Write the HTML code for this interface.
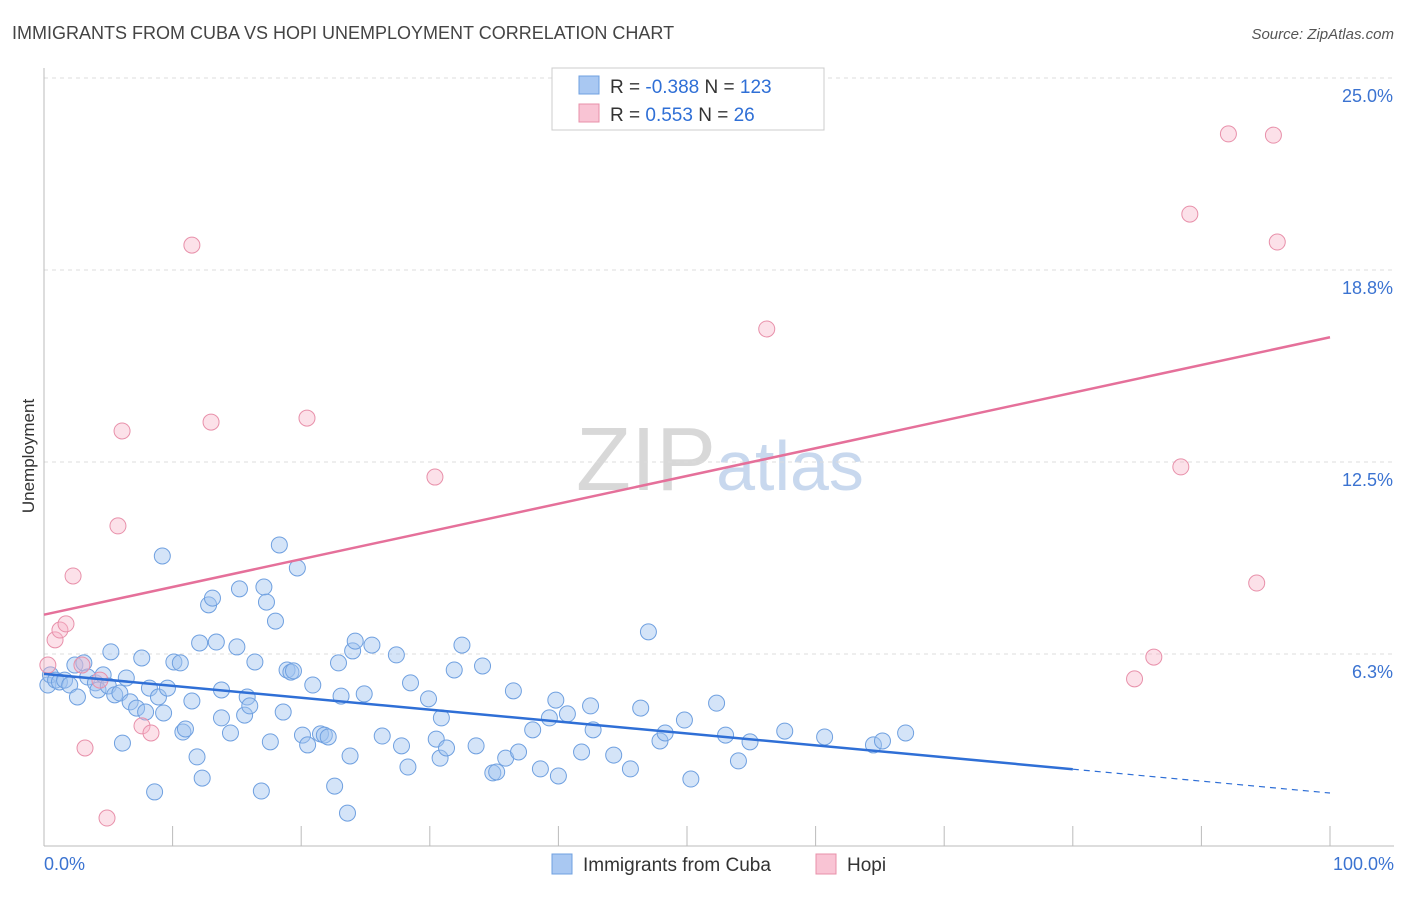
<!DOCTYPE html>
<html><head><meta charset="utf-8"><style>
body{margin:0;background:#fff;font-family:"Liberation Sans",sans-serif}
svg text{font-family:"Liberation Sans",sans-serif}
</style></head><body>
<svg id="chart" width="1406" height="892" xmlns="http://www.w3.org/2000/svg">
<text x="12" y="39" font-size="18" fill="#444">IMMIGRANTS FROM CUBA VS HOPI UNEMPLOYMENT CORRELATION CHART</text>
<text x="1394" y="39" font-size="15" fill="#555" font-style="italic" text-anchor="end">Source: ZipAtlas.com</text>
<text x="720" y="490" font-size="90" text-anchor="middle" fill="#ddd" font-family="Liberation Serif"><tspan fill="#d8d8d8">ZIP</tspan><tspan fill="#c8d8ee" font-family="Liberation Sans" font-size="70">atlas</tspan></text>
<g id="grid"></g><g id="axes"></g><g id="marks"></g>
<text transform="translate(34,456) rotate(-90)" font-size="17" fill="#333" text-anchor="middle">Unemployment</text>
<g>
<rect x="552" y="68" width="272" height="62" fill="#fff" stroke="#ccc"/>
<rect x="579" y="76" width="20" height="18" fill="#a9c8f2" stroke="#6fa0e0"/>
<rect x="579" y="104" width="20" height="18" fill="#f9c4d4" stroke="#e890aa"/>
<text x="610" y="93" font-size="19" fill="#333">R = <tspan fill="#2f6fd6">-0.388</tspan>    N = <tspan fill="#2f6fd6">123</tspan></text>
<text x="610" y="121" font-size="19" fill="#333">R =   <tspan fill="#2f6fd6">0.553</tspan>    N =   <tspan fill="#2f6fd6">26</tspan></text>
</g>
<g>
<rect x="552" y="854" width="20" height="20" fill="#a9c8f2" stroke="#6fa0e0"/>
<text x="583" y="871" font-size="19" fill="#333">Immigrants from Cuba</text>
<rect x="816" y="854" width="20" height="20" fill="#f9c4d4" stroke="#e890aa"/>
<text x="847" y="871" font-size="19" fill="#333">Hopi</text>
</g>
</svg>
<script>
const yTicks=[6.25,12.5,18.75,25];
const yTickLabels=["6.3%","12.5%","18.8%","25.0%"];
const xTickLabels=["0.0%","100.0%"];
const cubaX=[0.3,0.5,0.9,1.2,1.6,2.0,2.4,2.6,3.1,3.4,4.0,4.2,4.6,5.0,5.2,5.5,5.9,6.1,6.4,6.7,7.2,7.6,7.9,8.2,8.6,8.9,9.2,9.3,9.6,10.1,10.6,10.8,11.0,11.5,11.9,12.1,12.3,12.8,13.1,13.4,13.8,13.8,14.5,15.0,15.2,15.6,15.8,16.0,16.4,16.9,17.1,17.3,17.6,18.0,18.3,18.6,18.9,19.2,19.4,19.7,20.1,20.5,20.9,21.5,21.8,22.1,22.6,22.9,23.1,23.6,23.8,24.0,24.2,24.9,25.5,26.3,27.4,27.8,28.3,28.5,29.9,30.5,30.8,30.9,31.3,31.9,32.5,33.6,34.1,34.9,35.2,35.9,36.5,36.9,38.0,38.6,39.3,39.8,40.0,40.7,41.8,42.5,42.7,44.3,45.6,46.4,47.0,47.9,48.3,49.8,50.3,52.3,53.0,54.0,54.9,57.6,60.7,64.5,65.2,67.0];
const cubaY=[5.24,5.57,5.40,5.34,5.40,5.24,5.89,4.85,5.96,5.50,5.31,5.08,5.57,5.21,6.32,4.92,4.98,3.35,5.47,4.69,4.49,6.12,4.36,5.14,1.76,4.85,9.44,4.33,5.14,5.99,5.96,3.71,3.81,4.72,2.90,6.61,2.21,7.85,8.07,6.64,5.08,4.17,3.68,6.48,8.37,4.26,4.85,4.56,5.99,1.79,8.43,7.94,3.39,7.32,9.80,4.36,5.73,5.66,5.70,9.05,3.61,3.29,5.24,3.65,3.61,3.55,1.95,5.96,4.88,1.07,2.93,6.35,6.67,4.95,6.54,3.58,6.22,3.26,2.57,5.31,4.79,3.48,2.86,4.17,3.19,5.73,6.54,3.26,5.86,2.38,2.41,2.86,5.05,3.06,3.78,2.51,4.17,4.75,2.28,4.30,3.06,4.56,3.78,2.96,2.51,4.49,6.97,3.42,3.68,4.10,2.18,4.65,3.61,2.77,3.39,3.74,3.55,3.29,3.42,3.68];
const hopiX=[0.3,0.86,1.24,1.71,2.26,3.19,2.95,4.35,4.9,5.75,6.07,7.62,8.32,11.5,12.99,20.45,30.4,56.2,84.8,86.3,88.4,89.1,92.1,94.3,95.6,95.9];
const hopiY=[5.89,6.71,7.03,7.23,8.79,3.19,5.89,5.40,0.91,10.42,13.51,3.91,3.68,19.56,13.80,13.93,12.01,16.83,5.44,6.15,12.34,20.57,23.18,8.56,23.14,19.66];
const X0=44,X1=1330,Y0=846,Y1=78,YMAX=25;
const sx=v=>X0+(X1-X0)*v/100, sy=v=>Y0-(Y0-Y1)*v/YMAX;
const NS="http://www.w3.org/2000/svg";
function mk(tag,attrs,parent){const e=document.createElementNS(NS,tag);for(const k in attrs)e.setAttribute(k,attrs[k]);document.getElementById(parent).appendChild(e);return e;}
mk('line',{x1:X0,y1:Y1,x2:1394,y2:Y1,stroke:'#ddd','stroke-dasharray':'4,4'},'grid');
yTicks.forEach((t,i)=>{
 const g=mk('line',{x1:X0,y1:sy(t),x2:1394,y2:sy(t),stroke:'#ddd','stroke-dasharray':'4,4'},'grid');
 
 
 const l=mk('text',{x:1393,y:sy(t)+24,'font-size':18,fill:'#3b73d1','text-anchor':'end'},'axes');
 
 
 l.textContent=yTickLabels[i];
});
const ax=mk('line',{x1:X0,y1:68,x2:X0,y2:Y0,stroke:'#bbb'},'axes');


const bx=mk('line',{x1:X0,y1:Y0,x2:1394,y2:Y0,stroke:'#bbb'},'axes');


for(let i=0;i<=10;i++){const t=mk('line',{x1:sx(i*10),y1:826,x2:sx(i*10),y2:Y0,stroke:'#bbb'},'axes');
 
 }
[[0,'start',X0],[1,'end',1394]].forEach(([i,a,x])=>{const l=mk('text',{x:x,y:870,'font-size':18,fill:'#3b73d1','text-anchor':a},'axes');
 
 
 l.textContent=xTickLabels[i];});
function fit(xs,ys){const n=xs.length;let mx=0,my=0;for(let i=0;i<n;i++){mx+=xs[i];my+=ys[i];}mx/=n;my/=n;let a=0,b=0;for(let i=0;i<n;i++){a+=(xs[i]-mx)*(ys[i]-my);b+=(xs[i]-mx)**2;}const s=a/b;return x=>my+s*(x-mx);}
cubaX.forEach((x,i)=>{const c=mk('circle',{cx:sx(x),cy:sy(cubaY[i]),r:8,fill:'rgba(160,196,240,0.45)',stroke:'#6fa0e0','stroke-width':1},'marks');
 
 });
hopiX.forEach((x,i)=>{const c=mk('circle',{cx:sx(x),cy:sy(hopiY[i]),r:8,fill:'rgba(248,180,200,0.4)',stroke:'#e890aa','stroke-width':1},'marks');
 
 });
const fc=fit(cubaX,cubaY),fh=fit(hopiX,hopiY);
const l1=mk('line',{x1:sx(0),y1:sy(fc(0)),x2:sx(80),y2:sy(fc(80)),stroke:'#2f6fd6','stroke-width':2.5},'marks');


const l2=mk('line',{x1:sx(80),y1:sy(fc(80)),x2:sx(100),y2:sy(fc(100)),stroke:'#2f6fd6','stroke-width':1.2,'stroke-dasharray':'6,5'},'marks');


const l3=mk('line',{x1:sx(0),y1:sy(fh(0)),x2:sx(100),y2:sy(fh(100)),stroke:'#e5709a','stroke-width':2.5},'marks');


</script>
</body></html>
